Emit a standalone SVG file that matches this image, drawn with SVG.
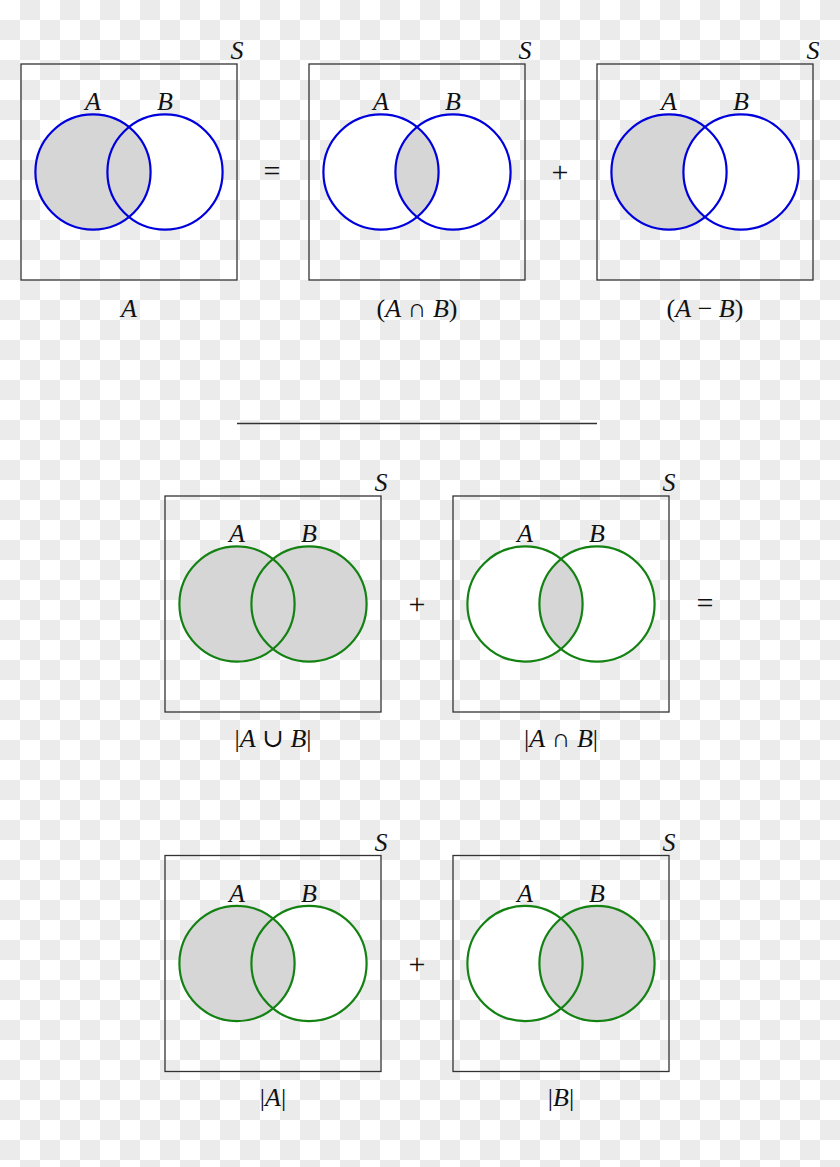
<svg xmlns="http://www.w3.org/2000/svg" width="840" height="1167" viewBox="0 0 840 1167">
<style>
.box{fill:none;stroke:#333;stroke-width:1.3}
.b{fill:none;stroke:#0000dd;stroke-width:2.2}
.g{fill:none;stroke:#138213;stroke-width:2.2}
.w{fill:#fff;stroke:none}
.s{fill:#d6d6d6;stroke:none}
text{font-family:"Liberation Serif","DejaVu Serif",serif;font-size:26px;fill:#111;text-anchor:middle}
.i{font-style:italic}
.op{font-size:30px}
</style>
<defs>
<pattern id="chk" width="40" height="40" patternUnits="userSpaceOnUse">
<rect width="40" height="40" fill="#ffffff"/>
<rect x="20" y="0" width="20" height="20" fill="#ebebeb"/>
<rect x="0" y="20" width="20" height="20" fill="#ebebeb"/>
</pattern>
<clipPath id="cB2"><circle cx="453" cy="172" r="57.6"/></clipPath>
<clipPath id="cB5"><circle cx="597" cy="604" r="57.6"/></clipPath>
</defs>
<rect width="840" height="1167" fill="url(#chk)"/>

<g id="panel-A">
<rect class="box" x="21" y="64" width="216" height="216"/>
<circle class="w" cx="165" cy="172" r="57.6"/>
<circle class="s" cx="93" cy="172" r="57.6"/>
<circle class="b" cx="93" cy="172" r="57.6"/>
<circle class="b" cx="165" cy="172" r="57.6"/>
<text class="i" x="237" y="59">S</text>
<text class="i" x="93" y="110">A</text>
<text class="i" x="165" y="110">B</text>
<text class="i" x="129" y="317">A</text>
</g>
<text class="op" x="272" y="181">=</text>

<g id="panel-AcapB">
<rect class="box" x="309" y="64" width="216" height="216"/>
<circle class="w" cx="381" cy="172" r="57.6"/>
<circle class="w" cx="453" cy="172" r="57.6"/>
<circle class="s" cx="381" cy="172" r="57.6" clip-path="url(#cB2)"/>
<circle class="b" cx="381" cy="172" r="57.6"/>
<circle class="b" cx="453" cy="172" r="57.6"/>
<text class="i" x="525" y="59">S</text>
<text class="i" x="381" y="110">A</text>
<text class="i" x="453" y="110">B</text>
<text x="417" y="317">(<tspan class="i">A</tspan> ∩ <tspan class="i">B</tspan>)</text>
</g>
<text class="op" x="560" y="182">+</text>

<g id="panel-AminusB">
<rect class="box" x="597" y="64" width="216" height="216"/>
<circle class="s" cx="669" cy="172" r="57.6"/>
<circle class="w" cx="741" cy="172" r="57.6"/>
<circle class="b" cx="669" cy="172" r="57.6"/>
<circle class="b" cx="741" cy="172" r="57.6"/>
<text class="i" x="813" y="59">S</text>
<text class="i" x="669" y="110">A</text>
<text class="i" x="741" y="110">B</text>
<text x="705" y="317">(<tspan class="i">A</tspan> − <tspan class="i">B</tspan>)</text>
</g>

<g id="connectors">
<line x1="237" y1="423.5" x2="597" y2="423.5" stroke="#333" stroke-width="1.3"/>
</g>

<g id="panel-AcupB">
<rect class="box" x="165" y="496" width="216" height="216"/>
<circle class="s" cx="237" cy="604" r="57.6"/>
<circle class="s" cx="309" cy="604" r="57.6"/>
<circle class="g" cx="237" cy="604" r="57.6"/>
<circle class="g" cx="309" cy="604" r="57.6"/>
<text class="i" x="381" y="491">S</text>
<text class="i" x="237" y="542">A</text>
<text class="i" x="309" y="542">B</text>
<text x="273" y="747">|<tspan class="i">A</tspan> ∪ <tspan class="i">B</tspan>|</text>
</g>
<text class="op" x="417" y="614">+</text>

<g id="panel-AcapB-2">
<rect class="box" x="453" y="496" width="216" height="216"/>
<circle class="w" cx="525" cy="604" r="57.6"/>
<circle class="w" cx="597" cy="604" r="57.6"/>
<circle class="s" cx="525" cy="604" r="57.6" clip-path="url(#cB5)"/>
<circle class="g" cx="525" cy="604" r="57.6"/>
<circle class="g" cx="597" cy="604" r="57.6"/>
<text class="i" x="669" y="491">S</text>
<text class="i" x="525" y="542">A</text>
<text class="i" x="597" y="542">B</text>
<text x="561" y="747">|<tspan class="i">A</tspan> ∩ <tspan class="i">B</tspan>|</text>
</g>
<text class="op" x="705" y="613">=</text>

<g id="panel-absA">
<rect class="box" x="165" y="855.5" width="216" height="216"/>
<circle class="w" cx="309" cy="963.5" r="57.6"/>
<circle class="s" cx="237" cy="963.5" r="57.6"/>
<circle class="g" cx="237" cy="963.5" r="57.6"/>
<circle class="g" cx="309" cy="963.5" r="57.6"/>
<text class="i" x="381" y="850.5">S</text>
<text class="i" x="237" y="901.5">A</text>
<text class="i" x="309" y="901.5">B</text>
<text x="273" y="1106">|<tspan class="i">A</tspan>|</text>
</g>
<text class="op" x="417" y="973.5">+</text>

<g id="panel-absB">
<rect class="box" x="453" y="855.5" width="216" height="216"/>
<circle class="w" cx="525" cy="963.5" r="57.6"/>
<circle class="s" cx="597" cy="963.5" r="57.6"/>
<circle class="g" cx="525" cy="963.5" r="57.6"/>
<circle class="g" cx="597" cy="963.5" r="57.6"/>
<text class="i" x="669" y="850.5">S</text>
<text class="i" x="525" y="901.5">A</text>
<text class="i" x="597" y="901.5">B</text>
<text x="561" y="1106">|<tspan class="i">B</tspan>|</text>
</g>
</svg>
